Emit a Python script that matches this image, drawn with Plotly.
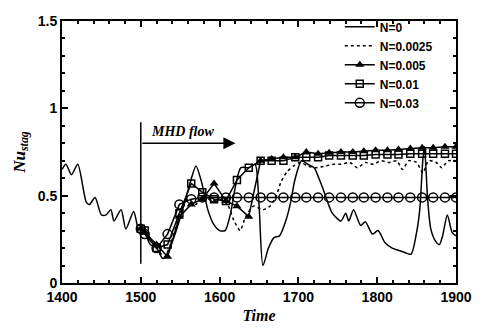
import plotly.graph_objects as go

# ---- data ----
t_n0 = [1400, 1405, 1412, 1420, 1431, 1435, 1442, 1450, 1456, 1462, 1466, 1475, 1481, 1491, 1497,
        1500, 1505, 1512, 1520, 1528, 1535, 1545, 1555, 1563, 1570, 1577, 1585, 1592, 1600, 1607,
        1614, 1620, 1627, 1637, 1645, 1650, 1655, 1662, 1669, 1676, 1685, 1691, 1695, 1704, 1712,
        1720, 1726, 1732, 1739, 1743, 1754, 1760, 1764, 1770, 1779, 1785, 1794, 1801, 1810, 1819,
        1825, 1835, 1843, 1850, 1854, 1858, 1860, 1864, 1868, 1874, 1879, 1883, 1889, 1895, 1900]
nu_n0 = [0.65, 0.68, 0.62, 0.68, 0.46, 0.45, 0.49, 0.39, 0.39, 0.42, 0.355, 0.42, 0.31, 0.41, 0.31,
         0.31, 0.29, 0.22, 0.20, 0.14, 0.18, 0.30, 0.45, 0.58, 0.67, 0.58, 0.42, 0.34, 0.30, 0.30,
         0.40, 0.55, 0.66, 0.66, 0.68, 0.45, 0.10, 0.20, 0.26, 0.27, 0.37, 0.48, 0.58, 0.70, 0.68,
         0.66, 0.60, 0.53, 0.44, 0.40, 0.355, 0.40, 0.355, 0.42, 0.33, 0.35, 0.28, 0.30, 0.23, 0.20,
         0.19, 0.175, 0.165, 0.29, 0.42, 0.71, 0.78, 0.48, 0.31, 0.24, 0.22, 0.27, 0.39, 0.29, 0.27]

t_n0025 = [1500, 1510, 1520, 1530, 1540, 1550, 1560, 1570, 1580, 1590, 1600, 1610, 1618, 1626,
           1633, 1643, 1655, 1664, 1672, 1678, 1686, 1694, 1702, 1712, 1722, 1735, 1745, 1755,
           1765, 1775, 1785, 1795, 1805, 1815, 1825, 1832, 1840, 1850, 1858, 1865, 1875, 1882,
           1890, 1900]
nu_n0025 = [0.31, 0.26, 0.20, 0.15, 0.25, 0.40, 0.48, 0.45, 0.50, 0.47, 0.48, 0.45, 0.36, 0.30,
            0.38, 0.44, 0.42, 0.44, 0.50, 0.58, 0.64, 0.67, 0.69, 0.67, 0.66, 0.67, 0.68, 0.68,
            0.69, 0.66, 0.69, 0.68, 0.70, 0.69, 0.70, 0.65, 0.70, 0.69, 0.63, 0.70, 0.69, 0.66,
            0.70, 0.70]

t_mark = [1500, 1505, 1520, 1534, 1549, 1564, 1578, 1593, 1608, 1622, 1637, 1652, 1666, 1681,
          1696, 1710, 1725, 1739, 1754, 1769, 1783, 1798, 1813, 1827, 1842, 1857, 1871, 1886, 1900]
nu_n005 = [0.31, 0.29, 0.22, 0.15, 0.38, 0.45, 0.48, 0.57, 0.47, 0.44, 0.38, 0.70, 0.71, 0.72,
           0.72, 0.75, 0.74, 0.745, 0.75, 0.75, 0.755, 0.76, 0.76, 0.765, 0.77, 0.775, 0.775,
           0.78, 0.78]
nu_n01 = [0.31, 0.30, 0.20, 0.22, 0.40, 0.57, 0.52, 0.48, 0.47, 0.59, 0.66, 0.70, 0.70, 0.70,
          0.72, 0.72, 0.72, 0.73, 0.73, 0.73, 0.73, 0.735, 0.735, 0.735, 0.74, 0.74, 0.74,
          0.74, 0.74]
nu_n03 = [0.31, 0.28, 0.20, 0.28, 0.45, 0.48, 0.49, 0.49, 0.49, 0.49, 0.49, 0.49, 0.49, 0.49,
          0.49, 0.49, 0.49, 0.49, 0.49, 0.49, 0.49, 0.49, 0.49, 0.49, 0.49, 0.49, 0.49, 0.49, 0.49]

series_names = ["N=0", "N=0.0025", "N=0.005", "N=0.01", "N=0.03"]
x_ticks = [1400, 1500, 1600, 1700, 1800, 1900]
y_ticks = [0, 0.5, 1, 1.5]

# ---- figure ----
fig = go.Figure()
fig.add_trace(go.Scatter(x=t_n0, y=nu_n0, mode="lines", name=series_names[0],
                         line=dict(color="black", width=1.5, shape="spline", smoothing=0.7)))
fig.add_trace(go.Scatter(x=t_n0025, y=nu_n0025, mode="lines", name=series_names[1],
                         line=dict(color="black", width=1.5, dash="dot", shape="spline",
                                   smoothing=0.6)))
fig.add_trace(go.Scatter(x=t_mark, y=nu_n005, mode="lines+markers", name=series_names[2],
                         line=dict(color="black", width=1.5),
                         marker=dict(symbol="triangle-up", size=8, color="black")))
fig.add_trace(go.Scatter(x=t_mark, y=nu_n01, mode="lines+markers", name=series_names[3],
                         line=dict(color="black", width=1.5),
                         marker=dict(symbol="square-open", size=7, color="black",
                                     line=dict(width=1.5))))
fig.add_trace(go.Scatter(x=t_mark, y=nu_n03, mode="lines+markers", name=series_names[4],
                         line=dict(color="black", width=1.5),
                         marker=dict(symbol="circle-open", size=9, color="black",
                                     line=dict(width=1.5))))

# MHD flow annotation
fig.add_shape(type="line", x0=1500, x1=1500, y0=0.11, y1=0.92, xref="x", yref="y",
              line=dict(color="black", width=1.5))
fig.add_annotation(x=1620, y=0.80, ax=1500, ay=0.80, xref="x", yref="y", axref="x", ayref="y",
                   text="", showarrow=True, arrowhead=2, arrowsize=1.6, arrowwidth=1.5,
                   arrowcolor="black")
fig.add_annotation(x=1510, y=0.87, xref="x", yref="y", xanchor="left", yanchor="middle",
                   text="<b><i>MHD flow</i></b>", showarrow=False,
                   font=dict(family="Liberation Serif", size=14, color="black"))

axis_common = dict(showline=True, linecolor="black", linewidth=2, mirror="ticks",
                   ticks="inside", ticklen=6, tickwidth=1.5, tickcolor="black",
                   showgrid=False, zeroline=False,
                   tickfont=dict(family="Liberation Sans", size=14, color="black"))

fig.update_xaxes(range=[1400, 1900], tickvals=x_ticks,
                 ticktext=[f"<b>{v}</b>" for v in x_ticks],
                 minor=dict(dtick=20, ticks="inside", ticklen=3, tickcolor="black", showgrid=False),
                 title=dict(text="<b><i>Time</i></b>", standoff=6,
                            font=dict(family="Liberation Serif", size=16, color="black")),
                 **axis_common)
fig.update_yaxes(range=[0, 1.5], tickvals=y_ticks,
                 ticktext=[f"<b>{v:g}</b>" for v in y_ticks],
                 minor=dict(dtick=0.1, ticks="inside", ticklen=3, tickcolor="black", showgrid=False),
                 title=dict(text="<b><i>Nu<sub>stag</sub></i></b>", standoff=8,
                            font=dict(family="Liberation Serif", size=17, color="black")),
                 **axis_common)

fig.update_layout(
    width=484, height=334,
    margin=dict(l=62, r=21, t=12, b=47),
    paper_bgcolor="white", plot_bgcolor="white",
    showlegend=True,
    legend=dict(x=0.705, y=1.033, xanchor="left", yanchor="top",
                bgcolor="rgba(255,255,255,0)", borderwidth=0,
                font=dict(family="Liberation Sans", size=12, color="black"),
                tracegroupgap=0, itemwidth=30),
)
fig.for_each_trace(lambda tr: tr.update(name=f"<b>{tr.name}</b>"))

fig.write_html("out.html")
